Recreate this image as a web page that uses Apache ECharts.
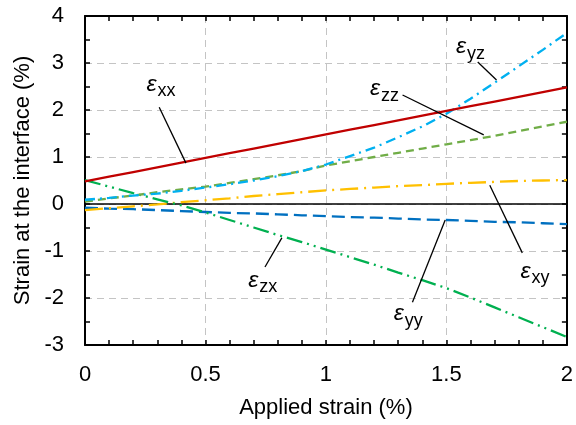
<!DOCTYPE html>
<html>
<head>
<meta charset="utf-8">
<script src="https://cdn.jsdelivr.net/npm/echarts@6/dist/echarts.min.js"></script>
<style>html,body{margin:0;padding:0;background:#fff}#c{width:576px;height:425px}</style>
</head>
<body>
<div id="c"></div>
<script>
// Applied strain (%)
var strainX = [0,0.1,0.2,0.3,0.4,0.5,0.6,0.7,0.8,0.9,1.0,1.1,1.2,1.3,1.4,1.5,1.6,1.7,1.8,1.9,2.0];
var epsXX = [0.48,0.58,0.68,0.78,0.88,0.98,1.08,1.18,1.28,1.38,1.48,1.58,1.68,1.78,1.88,1.98,2.08,2.18,2.28,2.38,2.48];
var epsYZ = [0.09,0.13,0.18,0.22,0.28,0.35,0.42,0.50,0.59,0.70,0.84,1.02,1.20,1.42,1.65,1.92,2.24,2.58,2.93,3.28,3.64];
var epsZZ = [0.05,0.12,0.18,0.25,0.31,0.37,0.45,0.53,0.61,0.70,0.82,0.91,1.00,1.09,1.18,1.27,1.36,1.45,1.55,1.65,1.75];
var epsXY = [-0.13,-0.09,-0.05,-0.01,0.04,0.08,0.12,0.17,0.21,0.25,0.29,0.32,0.35,0.38,0.40,0.43,0.45,0.47,0.49,0.50,0.51];
var epsYY = [-0.08,-0.10,-0.11,-0.13,-0.15,-0.17,-0.19,-0.20,-0.22,-0.24,-0.26,-0.28,-0.29,-0.31,-0.33,-0.34,-0.36,-0.38,-0.39,-0.41,-0.43];
var epsZX = [0.51,0.37,0.23,0.10,-0.03,-0.18,-0.34,-0.50,-0.66,-0.81,-0.97,-1.13,-1.29,-1.46,-1.62,-1.79,-1.99,-2.20,-2.41,-2.62,-2.83];

// annotation: subscript, text anchor [x,y], leader from [x,y] to [x,y] (data coords)
var labelSubs = ['xx','yz','zz','zx','xy','yy'];
var labelPos = [[0.255,2.55],[1.54,3.35],[1.183,2.45],[0.678,-1.62],[1.807,-1.43],[1.281,-2.34]];
var leaderFrom = [[0.308,2.06],[1.63,3.02],[1.318,2.32],[0.747,-1.34],[1.815,-1.04],[1.359,-2.09]];
var leaderTo = [[0.419,0.87],[1.708,2.64],[1.655,1.47],[0.817,-0.72],[1.68,0.40],[1.495,-0.34]];

var FONT = '"Liberation Sans", Arial, sans-serif';
function pairs(ys){ return strainX.map(function(x,i){ return [x, ys[i]]; }); }

var chart = echarts.init(document.getElementById('c'), null, {renderer:'canvas'});
var tickStyle = {show:true, inside:true, length:5, lineStyle:{color:'#000', width:1.5}};
var minorStyleX = {show:true, splitNumber:5, length:5, lineStyle:{color:'#000', width:1.5}};
var minorStyleY = {show:true, splitNumber:2, length:5, lineStyle:{color:'#000', width:1.5}};
var gridLine = {show:true, lineStyle:{color:'#c4c4c4', width:1, type:[7,5]}};

function line(name, data, color, dash){
  return {name:name, type:'line', data:pairs(data), showSymbol:false, symbol:'none',
    lineStyle:{color:color, width:2.3, type:dash}, z:3, animation:false};
}

var option = {
  animation:false,
  grid:{left:85, right:4, top:16, bottom:80},
  xAxis:[{
    type:'value', min:0, max:2, interval:0.5, position:'bottom',
    name:'Applied strain (%)', nameLocation:'middle', nameGap:52,
    nameTextStyle:{fontFamily:FONT, fontSize:22, color:'#000'},
    axisLine:{show:true, onZero:false, lineStyle:{color:'#000', width:2}},
    axisTick:tickStyle, minorTick:minorStyleX,
    axisLabel:{fontFamily:FONT, fontSize:22, color:'#000', margin:19},
    splitLine:gridLine
  },{
    type:'value', min:0, max:2, interval:0.5, position:'top',
    axisLine:{show:true, onZero:false, lineStyle:{color:'#000', width:2}},
    axisTick:tickStyle, minorTick:minorStyleX, axisLabel:{show:false}, splitLine:{show:false}
  }],
  yAxis:[{
    type:'value', min:-3, max:4, interval:1, position:'left',
    name:'Strain at the interface (%)', nameLocation:'middle', nameGap:50,
    nameTextStyle:{fontFamily:FONT, fontSize:22, color:'#000'},
    axisLine:{show:true, onZero:false, lineStyle:{color:'#000', width:2}},
    axisTick:tickStyle, minorTick:minorStyleY,
    axisLabel:{fontFamily:FONT, fontSize:22, color:'#000', margin:21},
    splitLine:gridLine
  },{
    type:'value', min:-3, max:4, interval:1, position:'right',
    axisLine:{show:true, onZero:false, lineStyle:{color:'#000', width:2}},
    axisTick:tickStyle, minorTick:minorStyleY, axisLabel:{show:false}, splitLine:{show:false}
  }],
  series:[
    {type:'line', data:[[0,0],[2,0]], symbol:'none', lineStyle:{color:'#000', width:1.5}, z:2, silent:true},
    line('yy', epsYY, '#0070C0', [13,6]),
    line('xy', epsXY, '#FFC000', [18,6,2,6]),
    line('zx', epsZX, '#00B050', [16,5,2,5,2,5]),
    line('zz', epsZZ, '#70AD47', [8,5]),
    line('yz', epsYZ, '#00B0F0', [10,5,2,5]),
    line('xx', epsXX, '#C00000', 'solid')
  ]
};
chart.setOption(option);

var g = [];
for (var i=0;i<labelSubs.length;i++){
  var p = chart.convertToPixel({gridIndex:0}, labelPos[i]);
  var a = chart.convertToPixel({gridIndex:0}, leaderFrom[i]);
  var b = chart.convertToPixel({gridIndex:0}, leaderTo[i]);
  g.push({type:'line', shape:{x1:a[0],y1:a[1],x2:b[0],y2:b[1]}, style:{stroke:'#000', lineWidth:1.3}, z:10});
  g.push({type:'text', x:p[0], y:p[1], style:{text:'\u03b5', font:'italic 23px ' + FONT, fill:'#000', textAlign:'left', textVerticalAlign:'middle'}, z:10});
  g.push({type:'text', x:p[0]+11, y:p[1]+7, style:{text:labelSubs[i], font:'18px ' + FONT, fill:'#000', textAlign:'left', textVerticalAlign:'middle'}, z:10});
}
chart.setOption({graphic:g});
</script>
</body>
</html>
